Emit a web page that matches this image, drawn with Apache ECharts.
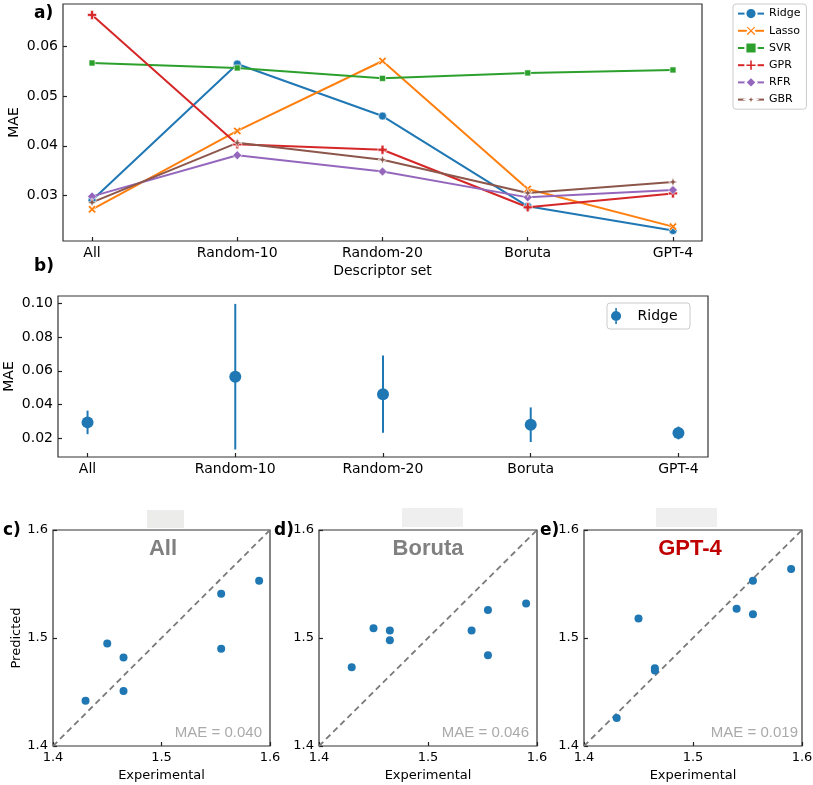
<!DOCTYPE html>
<html>
<head>
<meta charset="utf-8">
<script src="https://cdn.jsdelivr.net/npm/echarts@6.0.0/dist/echarts.min.js"></script>
<style>
  html, body { margin: 0; padding: 0; background: #fff; }
  #main { width: 813px; height: 785px; }
</style>
</head>
<body>
<div id="main"></div>
<script>
// descriptor sets (x of panels a and b)
const categories = ['All', 'Random-10', 'Random-20', 'Boruta', 'GPT-4'];

// panel a: MAE per model
const ridgeMae = [0.0290, 0.0565, 0.0460, 0.0278, 0.0229];
const lassoMae = [0.0272, 0.0430, 0.0571, 0.0313, 0.0237];
const svrMae   = [0.0567, 0.0557, 0.0536, 0.0547, 0.0553];
const gprMae   = [0.0664, 0.0403, 0.0392, 0.0276, 0.0304];
const rfrMae   = [0.0298, 0.0381, 0.0348, 0.0296, 0.0311];
const gbrMae   = [0.0286, 0.0406, 0.0372, 0.0305, 0.0327];

// panel b: ridge mean and spread
const ridgeMean = [0.0293, 0.0565, 0.0461, 0.0279, 0.0230];
const ridgeStd  = [0.0070, 0.0433, 0.0230, 0.0103, 0.0038];

// panels c-e: experimental vs predicted
const allExp    = [1.430, 1.450, 1.465, 1.465, 1.555, 1.555, 1.590];
const allPred   = [1.442, 1.495, 1.482, 1.451, 1.541, 1.490, 1.553];
const borutaExp  = [1.430, 1.450, 1.465, 1.465, 1.540, 1.555, 1.555, 1.590];
const borutaPred = [1.473, 1.509, 1.507, 1.498, 1.507, 1.526, 1.484, 1.532];
const gptExp    = [1.430, 1.450, 1.465, 1.465, 1.540, 1.555, 1.555, 1.590];
const gptPred   = [1.426, 1.518, 1.472, 1.470, 1.527, 1.553, 1.522, 1.564];

// tick labels
const aTicks = [0.03, 0.04, 0.05, 0.06];
const bTicks = [0.02, 0.04, 0.06, 0.08, 0.10];
const scatterTicks = [1.4, 1.5, 1.6];
const catTicks = [0, 1, 2, 3, 4];

const chart = echarts.init(document.getElementById('main'));

const FONT = 'DejaVu Sans';
const frame = '#333';

const xSym = 'path://M0,2 L2,0 L5,3 L8,0 L10,2 L7,5 L10,8 L8,10 L5,7 L2,10 L0,8 L3,5 Z';
const plusSym = 'path://M3.4,0 H6.6 V3.4 H10 V6.6 H6.6 V10 H3.4 V6.6 H0 V3.4 H3.4 Z';
const starSym = 'path://M5,0 L6.3,3.7 L10,5 L6.3,6.3 L5,10 L3.7,6.3 L0,5 L3.7,3.7 Z';
const errIcon = 'path://M4.4,0 H5.6 V12 H4.4 Z M5,2.2 A3.8,3.8 0 1 1 4.99,2.2 Z';

const models = [
  { name: 'Ridge', data: ridgeMae, color: '#1f77b4', symbol: 'circle', size: 8 },
  { name: 'Lasso', data: lassoMae, color: '#ff7f0e', symbol: xSym, size: 8 },
  { name: 'SVR',   data: svrMae,   color: '#2ca02c', symbol: 'rect', size: 6 },
  { name: 'GPR',   data: gprMae,   color: '#d62728', symbol: plusSym, size: 9 },
  { name: 'RFR',   data: rfrMae,   color: '#9467bd', symbol: 'diamond', size: 9 },
  { name: 'GBR',   data: gbrMae,   color: '#8c564b', symbol: starSym, size: 9 }
];

const tickStyle = { color: '#222', width: 1.2 };

function tickAxis(extra) {
  return Object.assign({
    axisLine: { show: false, onZero: false },
    splitLine: { show: false },
    nameMoveOverlap: false,
    nameTextStyle: { fontFamily: FONT, fontSize: 14, color: '#000' }
  }, extra);
}

function catAxis(gridIndex, extra) {
  return tickAxis(Object.assign({
    type: 'value', gridIndex: gridIndex, min: -0.2, max: 4.2,
    axisTick: { show: true, inside: true, length: 4, customValues: catTicks, lineStyle: tickStyle },
    axisLabel: {
      customValues: catTicks, margin: 5, fontFamily: FONT, fontSize: 14, color: '#000',
      formatter: v => categories[Math.round(v)]
    }
  }, extra));
}

function numAxis(gridIndex, min, max, ticks, digits, extra) {
  return tickAxis(Object.assign({
    type: 'value', gridIndex: gridIndex, min: min, max: max,
    axisTick: { show: true, inside: true, length: 4, customValues: ticks, lineStyle: tickStyle },
    axisLabel: {
      customValues: ticks, margin: 5, fontFamily: FONT, fontSize: 14, color: '#000',
      formatter: v => v.toFixed(digits)
    }
  }, extra));
}

// scatter axes: plain interval ticks (min 1.4 is a multiple of 0.1)
function sAxis(gridIndex, extra) {
  return tickAxis(Object.assign({
    type: 'value', gridIndex: gridIndex, min: scatterTicks[0], max: scatterTicks[2], interval: 0.1,
    axisTick: { show: true, inside: true, length: 4, lineStyle: tickStyle },
    axisLabel: { margin: 5, fontFamily: FONT, fontSize: 13, color: '#000', showMinLabel: true, showMaxLabel: true,
      formatter: v => v.toFixed(1) }
  }, extra));
}

function scatterPanel(idx, xs, ys) {
  return [
    {
      type: 'line', xAxisIndex: idx, yAxisIndex: idx, silent: true,
      data: [[scatterTicks[0], scatterTicks[0]], [scatterTicks[2], scatterTicks[2]]],
      symbol: 'none', lineStyle: { color: '#7a7a7a', width: 1.8, type: [6, 4] }, z: 1
    },
    {
      type: 'scatter', xAxisIndex: idx, yAxisIndex: idx,
      data: xs.map((x, i) => [x, ys[i]]),
      symbolSize: 8, itemStyle: { color: '#1f77b4', opacity: 1 }, z: 3
    }
  ];
}

const grids = [
  { left: 63, top: 4, width: 639, height: 237 },
  { left: 58, top: 296, width: 650, height: 161 },
  { left: 53, top: 530, width: 217, height: 216 },
  { left: 319, top: 530, width: 218, height: 216 },
  { left: 584, top: 530, width: 218, height: 216 }
].map(g => Object.assign({
  show: true, borderColor: frame, borderWidth: 1.2, backgroundColor: 'transparent',
  containLabel: false, outerBoundsMode: 'none'
}, g));

const series = [];
models.forEach(m => {
  series.push({
    name: m.name, type: 'line', xAxisIndex: 0, yAxisIndex: 0,
    data: categories.map((c, i) => [i, m.data[i]]),
    symbol: m.symbol, symbolSize: m.size, showSymbol: true,
    lineStyle: { color: m.color, width: 2 },
    itemStyle: { color: m.color, borderColor: '#fff', borderWidth: 0.6 }
  });
});

series.push({
  name: 'Ridge ', type: 'custom', xAxisIndex: 1, yAxisIndex: 1,
  data: categories.map((c, i) => [i, ridgeMean[i] - ridgeStd[i], ridgeMean[i] + ridgeStd[i]]),
  renderItem: (params, api) => {
    const lo = api.coord([api.value(0), api.value(1)]);
    const hi = api.coord([api.value(0), api.value(2)]);
    return {
      type: 'line',
      shape: { x1: lo[0], y1: lo[1], x2: hi[0], y2: hi[1] },
      style: { stroke: '#1f77b4', lineWidth: 2 }
    };
  },
  itemStyle: { color: '#1f77b4' }, z: 2
});
series.push({
  name: 'Ridge ', type: 'scatter', xAxisIndex: 1, yAxisIndex: 1,
  data: categories.map((c, i) => [i, ridgeMean[i]]),
  symbolSize: 12, itemStyle: { color: '#1f77b4', opacity: 1 }, z: 3
});

series.push(...scatterPanel(2, allExp, allPred));
series.push(...scatterPanel(3, borutaExp, borutaPred));
series.push(...scatterPanel(4, gptExp, gptPred));

function txt(x, y, text, style) {
  return {
    type: 'text', x: x, y: y, silent: true,
    style: Object.assign({ text: text, fill: '#000', fontFamily: FONT, fontSize: 17, fontWeight: 'bold',
      textAlign: 'left', textVerticalAlign: 'middle' }, style)
  };
}

const titleStyle = { fontFamily: 'Liberation Sans', fontSize: 22, fontWeight: 'bold', textAlign: 'center' };
const maeStyle = { fontFamily: 'Liberation Sans', fontSize: 15, fontWeight: 'normal', fill: '#aaaaaa', textAlign: 'right' };
const expName = { name: 'Experimental', nameLocation: 'middle', nameGap: 23,
  nameTextStyle: { fontFamily: FONT, fontSize: 13, color: '#000' } };

const option = {
  backgroundColor: '#fff',
  animation: false,
  grid: grids,
  xAxis: [
    catAxis(0, { name: 'Descriptor set', nameLocation: 'middle', nameGap: 23 }),
    catAxis(1, {}),
    sAxis(2, expName),
    sAxis(3, expName),
    sAxis(4, expName)
  ],
  yAxis: [
    numAxis(0, 0.0208, 0.0686, aTicks, 2, { name: 'MAE', nameLocation: 'middle', nameGap: 42 }),
    numAxis(1, 0.0087, 0.1045, bTicks, 2, { name: 'MAE', nameLocation: 'middle', nameGap: 42 }),
    sAxis(2, { name: 'Predicted', nameLocation: 'middle', nameGap: 30,
      nameTextStyle: { fontFamily: FONT, fontSize: 13, color: '#000' } }),
    sAxis(3, {}),
    sAxis(4, {})
  ],
  legend: [
    {
      data: models.map(m => m.name),
      orient: 'vertical', left: 733, top: 4,
      padding: [3, 6, 3, 4], itemWidth: 26, itemHeight: 14, itemGap: 4,
      borderColor: '#ccc', borderWidth: 1, borderRadius: 3, backgroundColor: '#fff',
      textStyle: { fontFamily: FONT, fontSize: 11, color: '#000' }
    },
    {
      data: [{ name: 'Ridge ', icon: errIcon }],
      left: 607, top: 303,
      padding: [5, 8, 5, 4], itemWidth: 33, itemHeight: 16,
      borderColor: '#ccc', borderWidth: 1, borderRadius: 3, backgroundColor: '#fff',
      textStyle: { fontFamily: FONT, fontSize: 14, color: '#000' }
    }
  ],
  graphic: [
    txt(34, 14, 'a)'),
    txt(34, 267, 'b)'),
    txt(3, 531, 'c)'),
    txt(274, 531, 'd)'),
    txt(540, 531, 'e)'),
    { type: 'rect', shape: { x: 147, y: 510, width: 37, height: 18 }, style: { fill: '#ececea' }, silent: true },
    { type: 'rect', shape: { x: 402, y: 508, width: 61, height: 19 }, style: { fill: '#efefef' }, silent: true },
    { type: 'rect', shape: { x: 656, y: 508, width: 61, height: 19 }, style: { fill: '#efefef' }, silent: true },
    txt(163, 549, 'All', Object.assign({ fill: '#808080' }, titleStyle)),
    txt(428, 549, 'Boruta', Object.assign({ fill: '#808080' }, titleStyle)),
    txt(690, 549, 'GPT-4', Object.assign({ fill: '#c00000' }, titleStyle)),
    txt(262, 733, 'MAE = 0.040', maeStyle),
    txt(529, 733, 'MAE = 0.046', maeStyle),
    txt(798, 733, 'MAE = 0.019', maeStyle)
  ],
  series: series
};

chart.setOption(option);
</script>
</body>
</html>
